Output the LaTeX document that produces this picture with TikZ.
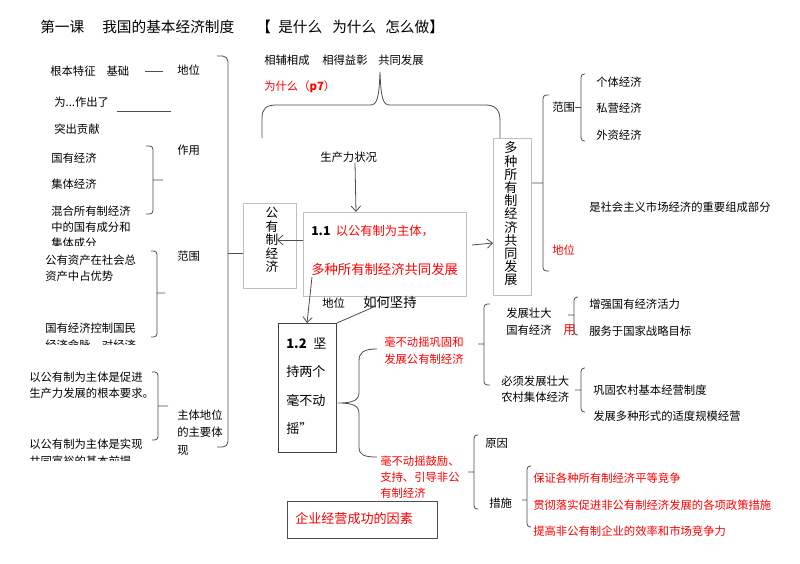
\documentclass[tikz,border=0pt]{standalone}
\usepackage{fontspec}
\setmainfont{Noto Sans CJK SC}
\usetikzlibrary{arrows.meta}
\definecolor{lineg}{HTML}{4D4D4D}
\definecolor{boxg}{HTML}{BFBFBF}
\definecolor{darkg}{HTML}{404040}
\definecolor{redt}{HTML}{FF0000}
\newcommand\tightls{\lineskiplimit=-5pt\relax}
% hook x, bar x, top y, bottom y, tip y, tip x
\newcommand\bkt[6]{\draw[brk] (#1,#3) -- (#2,#3) -- (#2,#4) -- (#1,#4) (#2,#5) -- (#6,#5);}
\begin{document}
\begin{tikzpicture}[x=0.75pt,y=-0.75pt,
  txt/.style={anchor=west,inner sep=0pt,align=left,font=\fontsize{8.5}{12.4}\selectfont},
  rtxt/.style={txt,text=redt},
  brk/.style={draw=lineg,line width=0.6pt,rounded corners=2.5pt},
  conn/.style={draw=lineg,line width=0.6pt},
  arr/.style={conn,-{Straight Barb[length=4pt,width=7pt]}},
  lbox/.style={draw=boxg,line width=0.6pt,anchor=north west,inner sep=0pt},
  dbox/.style={draw=darkg,line width=0.7pt,anchor=north west,inner sep=0pt}]
\useasboundingbox[fill=white] (0,0) rectangle (800,564);

% title
\begin{scope}[every node/.style={txt,font=\fontsize{11}{13}\selectfont}]
\node (ta) at (40,27) {第一课};
\node (tb) at (102,27) {我国的基本经济制度};
\node (tc) at (256,27) {【};
\node (td) at (278,27) {是什么};
\node (te) at (332,27) {为什么};
\node (tf) at (385,27) {怎么做】};
\end{scope}

% top
\node[txt] (xf1) at (264,60) {相辅相成};
\node[txt] (xf2) at (322,60) {相得益彰};
\node[txt] (xf3) at (378,60) {共同发展};
\node[rtxt] (why) at (264,87) {为什么（\textbf{p7}）};
\draw[conn] (262,138) -- (262,118) .. controls (262,109) and (266,105) .. (276,105)
  -- (370,105) .. controls (377,105) and (379,99) .. (380,72)
  .. controls (381,99) and (383,105) .. (390,105)
  -- (486,105) .. controls (495,105) and (500,110) .. (500,120) -- (500,138);

% left column
\node[txt] (gbtz) at (50,71) {根本特征\hspace{8.3pt}基础};
\draw[conn] (145,71) -- (163,71);
\node[txt] (dw1) at (177,70) {地位};
\node[txt] (wzc) at (54,102) {为...作出了};
\draw[conn] (117,111) -- (171,111);
\node[txt] (tcgx) at (54,129) {突出贡献};
\node[txt] (zy) at (177,150) {作用};
\node[txt] (gyjj) at (51,158) {国有经济};
\node[txt] (jtjj) at (51,184) {集体经济};
\begin{scope}
\clip (0,195) rectangle (200,245);
\node[txt,anchor=north west,font=\fontsize{8.5}{12.2}\selectfont] (hhsy) at (51,205.5) {混合所有制经济\\中的国有成分和\\集体成分};
\end{scope}
\bkt{146}{153}{146}{214}{180}{163}
\node[txt] (fw1) at (177,256) {范围};
\node[txt] (gyzc) at (45,268) {公有资产在社会总\\资产中占优势};
\begin{scope}
\clip (0,320) rectangle (200,344);
\node[txt,anchor=north west] (gykz) at (45,323) {国有经济控制国民\\经济命脉，对经济};
\end{scope}
\bkt{151}{157}{251}{337}{293}{165}
\node[txt] (cjsc) at (29,385) {以公有制为主体是促进\\生产力发展的根本要求。};
\begin{scope}
\clip (0,435) rectangle (200,460);
\node[txt,anchor=north west] (sxgt) at (29,439) {以公有制为主体是实现\\共同富裕的基本前提};
\end{scope}
\bkt{152}{158}{372}{440}{406}{168}
\node[txt,font=\fontsize{8.5}{13.1}\selectfont] (ztdw) at (177,432.5) {主体地位\\的主要体\\现};

% public ownership box
\node[lbox,minimum width=39.75pt,minimum height=63.75pt] (bgy) at (243,203) {};
\node[inner sep=0pt,align=center,font={\fontsize{9.5}{10.1}\selectfont\tightls}] (tgy) at (272,240) {公\\有\\制\\经\\济};
% big left brace
\draw[brk,rounded corners=4pt] (217,56) -- (228,56) -- (228,447) -- (217,447);
\draw[conn] (228,253) -- (bgy.west |- 0,253);

% box 1.1
\node[lbox,minimum width=122.25pt,minimum height=63pt] (b11) at (303,212) {};
\node[txt,font=\fontsize{9.2}{11}\selectfont] (t11a) at (311,231) {\textbf{1.1}\hspace{4pt}\textcolor{redt}{以公有制为主体，}};
\node[rtxt,font=\fontsize{10}{12}\selectfont] (t11b) at (311,269) {多种所有制经济共同发展};
\node[txt] (scl) at (320,157) {生产力状况};
\draw[arr] (scl.south -| 355,0) -- (b11.north -| 356,0);
\draw[arr] (b11.west |- tgy.center) -- ++(-26,0);

% box multiple ownership
\node[lbox,minimum width=28.5pt,minimum height=117.75pt] (bdz) at (493,138) {};
\node[inner sep=0pt,align=center,font={\fontsize{9.8}{9.9}\selectfont\tightls}] (tdz) at (511,214) {多\\种\\所\\有\\制\\经\\济\\共\\同\\发\\展};
\coordinate (a1) at (472,245);
\draw[arr] (a1) -- (bdz.west |- 0,243);

% right upper
\bkt{549}{543}{95}{271}{183}{532}
\node[txt] (fw2) at (552,107) {范围};
\draw[conn] (fw2.east) -- (581,107);
\bkt{585}{581}{74}{141}{107}{581}
\node[txt] (gtjj) at (596,82) {个体经济};
\node[txt] (syjj) at (596,108) {私营经济};
\node[txt] (wzjj) at (596,135) {外资经济};
\node[txt] (zycf) at (589,207) {是社会主义市场经济的重要组成部分};
\node[rtxt] (dw3) at (552,250) {地位};

% lower middle
\node[txt] (dw2) at (322,303) {地位};
\node[txt,font=\fontsize{10}{12}\selectfont] (rhjc) at (363,302) {如何坚持};
\node[dbox,minimum width=43.5pt,minimum height=96.75pt] (b12) at (278,323) {};
\node[txt,font=\fontsize{9.8}{21.4}\selectfont] (t12) at (286,386) {\textbf{1.2}\hspace{5pt}坚\\持两个\\毫不动\\摇”};
\draw[arr] (312,277) -- (b12.north -| 307,0);
\coordinate (rh) at (376,306);
\draw[conn] (rh) -- (b12.north east);
\draw[conn] (377,349) .. controls (364,349) and (359,352) .. (359,361) -- (359,392)
  .. controls (359,400) and (354,403) .. (338,403)
  .. controls (354,403) and (359,406) .. (359,414) -- (359,447)
  .. controls (359,455) and (364,457) .. (377,457);
\node[rtxt,font=\fontsize{8.5}{12.6}\selectfont] (gg) at (384,350.5) {毫不动摇巩固和\\发展公有制经济};
\begin{scope}
\clip (370,450) rectangle (470,497);
\node[rtxt,anchor=north west,font=\fontsize{8.5}{11.8}\selectfont] (gl) at (380,456) {毫不动摇鼓励、\\支持、引导非公\\有制经济};
\end{scope}

% right lower
\bkt{490}{484}{304}{385}{344}{478}
\node[txt] (fzgy) at (506,321.5) {发展壮大\\国有经济};
\node[rtxt,font=\fontsize{9.5}{11}\selectfont] (yong) at (563,330) {用};
\bkt{578}{574}{297}{335}{315}{568}
\node[txt] (zqhl) at (589,304) {增强国有经济活力};
\node[txt] (fwzl) at (589,331) {服务于国家战略目标};
\node[txt] (fzjt) at (501,389) {必须发展壮大\\农村集体经济};
\bkt{585}{581}{368}{412}{390}{575}
\node[txt] (ggnc) at (593,390) {巩固农村基本经营制度};
\node[txt] (fzdz) at (593,416) {发展多种形式的适度规模经营};
\bkt{478}{474}{435}{509}{472}{468}
\node[txt] (yy) at (485,443) {原因};
\node[txt] (cs) at (489,503) {措施};
\bkt{531}{527}{466}{527}{500}{522}
\node[rtxt] (bz) at (533,478) {保证各种所有制经济平等竞争};
\node[rtxt] (gc) at (533,505) {贯彻落实促进非公有制经济发展的各项政策措施};
\node[rtxt] (tg) at (533,531) {提高非公有制企业的效率和市场竞争力};

% enterprise box
\node[dbox,draw=lineg,minimum width=112.5pt,minimum height=27.75pt] (bqy) at (287,501) {};
\node[rtxt,font=\fontsize{9.8}{12}\selectfont] (tqy) at (295,519) {企业经营成功的因素};
\end{tikzpicture}
\end{document}
